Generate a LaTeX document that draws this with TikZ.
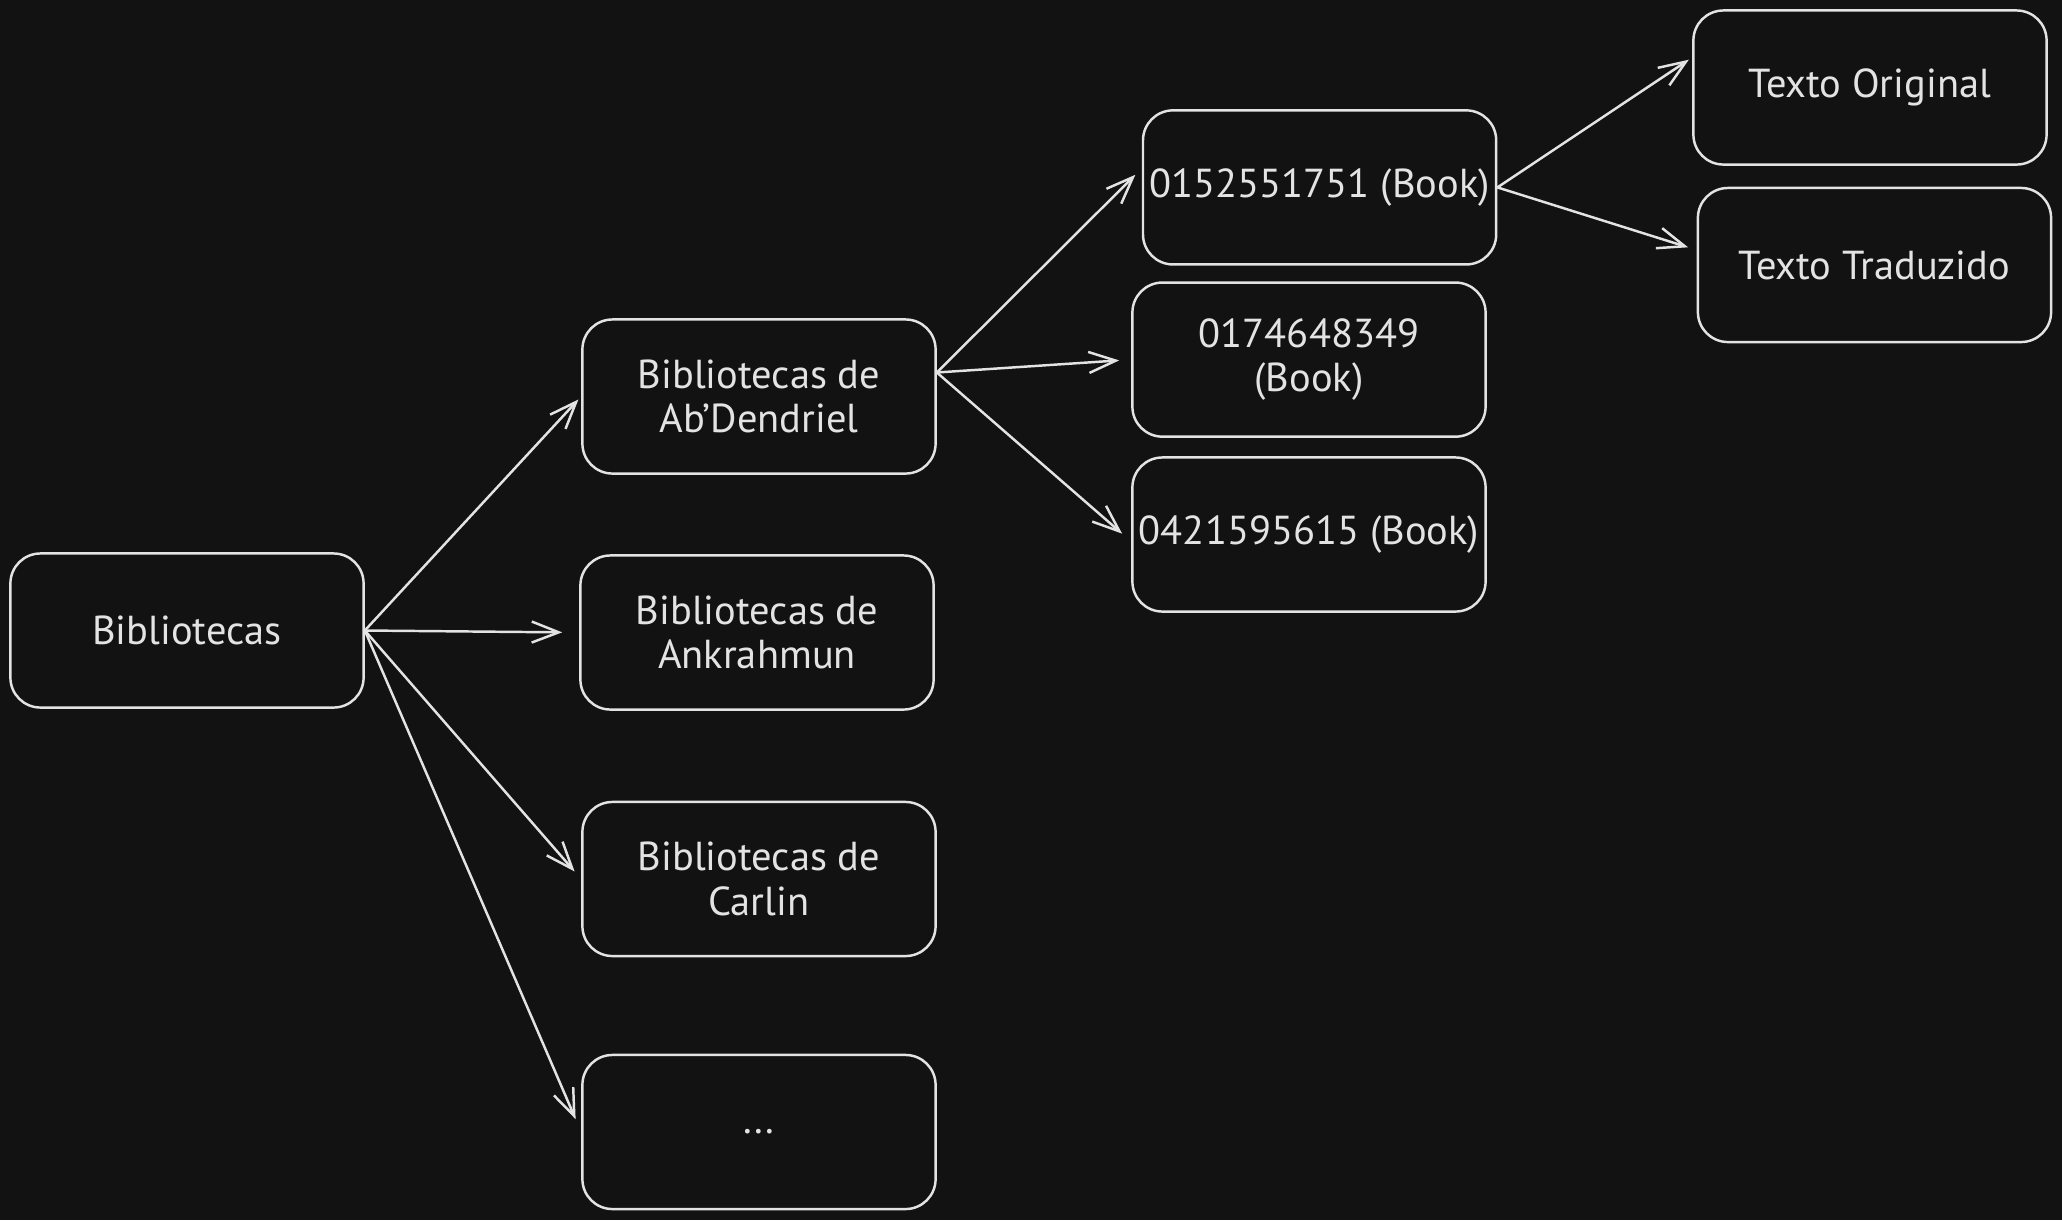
\documentclass[tikz,border=0pt]{standalone}
\usepackage{fontspec}
\setmainfont{PT Sans}
\usetikzlibrary{arrows.meta}
\definecolor{bgdark}{HTML}{121212}
\definecolor{inkwhite}{HTML}{E3E3E3}

\begin{document}
\begin{tikzpicture}[
 x=0.01cm, y=-0.01cm,
 box/.style={rectangle, rounded corners=0.3cm, draw=inkwhite, fill=bgdark, line width=0.7pt, minimum width=3.53cm, minimum height=1.54cm, inner xsep=1pt, text=inkwhite, align=center, font=\fontsize{11.5}{12.7}\selectfont},
 arrow/.style={-{Straight Barb[length=2.7mm, width=2.1mm]}, draw=inkwhite, line width=0.7pt, shorten >=#1},
 arrow/.default=0pt
]

% Background
\fill[bgdark] (0,0) rectangle (2062,1220);

% Root
\node[box] (Bib) at (187,630.5) {Bibliotecas};

% Library boxes
\node[box] (AbD) at (759,396.5) {Bibliotecas de\\Ab'Dendriel};
\node[box] (Ank) at (757,632.5) {Bibliotecas de\\Ankrahmun};
\node[box] (Car) at (759,879) {Bibliotecas de\\Carlin};
\node[box] (More) at (759,1132) {...};

% Books
\node[box] (Bk1) at (1319.6,187.4) {0152551751 (Book)};
\node[box] (Bk2) at (1309,359.6) {0174648349\\(Book)};
\node[box] (Bk3) at (1309,534.5) {0421595615 (Book)};

% Texts
\node[box] (Orig) at (1870,87.5) {Texto Original};
\node[box] (Trad) at (1874.5,265) {Texto Traduzido};

% Root to libraries
\foreach \t/\s in {AbD/0.04cm, Ank/0.17cm, Car/0.1cm, More/0.14cm} {
 \draw[arrow=\s] (Bib.east) -- (\t.west);
}

% Ab'Dendriel to books
\draw[arrow=0.09cm] ([yshift=0.24cm]AbD.east) -- ([yshift=0.19cm]Bk1.west);
\draw[arrow=0.12cm] ([yshift=0.24cm]AbD.east) -- (Bk2.west);
\draw[arrow=0.12cm] ([yshift=0.24cm]AbD.east) -- ([yshift=-0.07cm]Bk3.west);

% Book to texts
\draw[arrow=0.04cm] (Bk1.east) -- ([yshift=0.3cm]Orig.west);
\draw[arrow=0.09cm] (Bk1.east) -- ([yshift=0.15cm]Trad.west);
\end{tikzpicture}
\end{document}
